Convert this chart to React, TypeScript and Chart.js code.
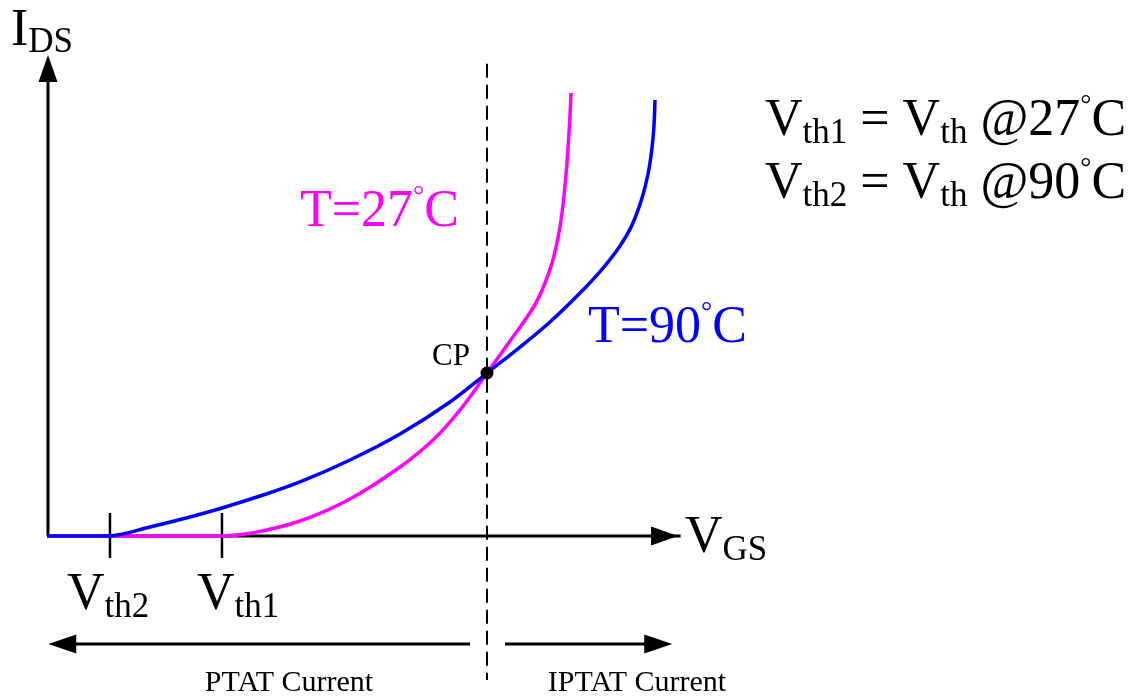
import React, { useEffect, useRef } from "react";
import { Chart, registerables } from "chart.js";

Chart.register(...registerables);

// Transfer curves I_DS(V_GS) at two temperatures (arbitrary units)
const vgs27 = [0, 2.734, 3.203, 3.953, 4.734, 5.516, 6.031, 6.453, 6.875, 7.234, 7.594, 7.75, 7.891, 7.984, 8.047, 8.109, 8.141, 8.172, 8.188];
const ids27 = [0, 0, 0.06, 0.302, 0.746, 1.391, 1.935, 2.54, 3.286, 3.931, 4.597, 5.0, 5.504, 6.008, 6.512, 7.278, 7.823, 8.488, 8.931];

const vgs90 = [0, 0.984, 1.609, 2.234, 2.734, 3.328, 3.953, 4.734, 5.516, 6.297, 6.875, 7.391, 7.859, 8.328, 8.688, 8.953, 9.141, 9.297, 9.391, 9.453, 9.484, 9.5];
const ids90 = [0, 0, 0.181, 0.383, 0.565, 0.806, 1.089, 1.532, 2.056, 2.702, 3.286, 3.81, 4.315, 4.899, 5.403, 5.847, 6.27, 6.815, 7.298, 7.823, 8.266, 8.79];

// Crossing point (zero temperature coefficient)
const cpVgs = 6.875;
const cpIds = 3.286;

// Threshold voltages marked on the V_GS axis
const vthValues = [0.984, 2.734];
const vthSubs = ["th2", "th1"];

const MAGENTA = "#ff00ff";
const BLUE = "#0000ff";
const SERIF = "'Liberation Serif', 'Times New Roman', serif";

type Run = { t: string; size: number; dy?: number };

function drawRuns(ctx: CanvasRenderingContext2D, x: number, y: number, runs: Run[], color: string) {
  ctx.fillStyle = color;
  ctx.textBaseline = "alphabetic";
  ctx.textAlign = "left";
  let cx = x;
  for (const r of runs) {
    ctx.font = `${r.size}px ${SERIF}`;
    ctx.fillText(r.t, cx, y + (r.dy || 0));
    cx += ctx.measureText(r.t).width;
  }
}

function arrowHead(ctx: CanvasRenderingContext2D, tipX: number, tipY: number, dir: "up" | "right" | "left", len: number, half: number) {
  ctx.beginPath();
  if (dir === "up") {
    ctx.moveTo(tipX, tipY);
    ctx.lineTo(tipX - half, tipY + len);
    ctx.lineTo(tipX + half, tipY + len);
  } else if (dir === "right") {
    ctx.moveTo(tipX, tipY);
    ctx.lineTo(tipX - len, tipY - half);
    ctx.lineTo(tipX - len, tipY + half);
  } else {
    ctx.moveTo(tipX, tipY);
    ctx.lineTo(tipX + len, tipY - half);
    ctx.lineTo(tipX + len, tipY + half);
  }
  ctx.closePath();
  ctx.fill();
}

const diagramPlugin = {
  id: "diagram",
  beforeDatasetsDraw(chart: any) {
    const { ctx, scales } = chart;
    const xs = scales.x;
    const ys = scales.y;
    const x0 = xs.getPixelForValue(0);
    const y0 = ys.getPixelForValue(0);
    ctx.save();
    ctx.strokeStyle = "#000";
    ctx.fillStyle = "#000";
    ctx.lineWidth = 3;
    // I_DS axis
    ctx.beginPath();
    ctx.moveTo(x0 + 1, y0);
    ctx.lineTo(x0 + 1, ys.getPixelForValue(9.3));
    ctx.stroke();
    arrowHead(ctx, x0 + 1, ys.getPixelForValue(9.7), "up", 27, 9.5);
    // V_GS axis
    ctx.beginPath();
    ctx.moveTo(x0, y0);
    ctx.lineTo(xs.getPixelForValue(9.9), y0);
    ctx.stroke();
    arrowHead(ctx, xs.getPixelForValue(9.86), y0, "right", 27, 9.5);
    // threshold ticks
    ctx.lineWidth = 2.5;
    for (const v of vthValues) {
      const px = xs.getPixelForValue(v);
      ctx.beginPath();
      ctx.moveTo(px, y0 - 23);
      ctx.lineTo(px, y0 + 22);
      ctx.stroke();
    }
    ctx.restore();
  },
  afterDatasetsDraw(chart: any) {
    const { ctx, scales } = chart;
    const xs = scales.x;
    const ys = scales.y;
    const y0 = ys.getPixelForValue(0);
    const cpX = xs.getPixelForValue(cpVgs);
    ctx.save();

    // vertical dashed line through CP
    ctx.strokeStyle = "#000";
    ctx.lineWidth = 2;
    ctx.setLineDash([14, 7]);
    ctx.beginPath();
    ctx.moveTo(cpX, ys.getPixelForValue(9.52));
    ctx.lineTo(cpX, 680);
    ctx.stroke();
    ctx.setLineDash([]);

    // CP dot
    ctx.fillStyle = "#000";
    ctx.beginPath();
    ctx.arc(cpX, ys.getPixelForValue(cpIds), 6.5, 0, Math.PI * 2);
    ctx.fill();

    // region arrows
    const ay = 644;
    ctx.lineWidth = 3;
    ctx.beginPath();
    ctx.moveTo(xs.getPixelForValue(0.4), ay);
    ctx.lineTo(cpX - 17, ay);
    ctx.moveTo(cpX + 18, ay);
    ctx.lineTo(xs.getPixelForValue(9.5), ay);
    ctx.stroke();
    arrowHead(ctx, xs.getPixelForValue(0.02), ay, "left", 28, 9.5);
    arrowHead(ctx, xs.getPixelForValue(9.77), ay, "right", 28, 9.5);

    // axis titles
    drawRuns(ctx, 11, 45, [{ t: "I", size: 52 }, { t: "DS", size: 35, dy: 7 }], "#000");
    drawRuns(ctx, 685, 552, [{ t: "V", size: 52 }, { t: "GS", size: 35, dy: 8 }], "#000");

    // threshold labels
    const vthLabelX = [67, 197];
    vthValues.forEach((_, i) => {
      drawRuns(ctx, vthLabelX[i], y0 + 73, [{ t: "V", size: 52 }, { t: vthSubs[i], size: 35, dy: 8 }], "#000");
    });

    // curve labels
    const deg = (s: string): Run[] => [
      { t: s, size: 52 },
      { t: "°", size: 28, dy: -22 },
      { t: "C", size: 52 },
    ];
    drawRuns(ctx, 300, 226, deg("T=27"), MAGENTA);
    drawRuns(ctx, 588, 342, deg("T=90"), BLUE);

    // CP label
    drawRuns(ctx, 432, 365, [{ t: "CP", size: 31 }], "#000");

    // threshold definitions
    const defLine = (sub: string, temp: string): Run[] => [
      { t: "V", size: 52 },
      { t: sub, size: 35, dy: 8 },
      { t: " = V", size: 52 },
      { t: "th", size: 35, dy: 8 },
      { t: " @" + temp, size: 52 },
      { t: "°", size: 28, dy: -22 },
      { t: "C", size: 52 },
    ];
    drawRuns(ctx, 765, 135, defLine("th1", "27"), "#000");
    drawRuns(ctx, 765, 198, defLine("th2", "90"), "#000");

    // region names
    ctx.fillStyle = "#000";
    ctx.font = `30px ${SERIF}`;
    ctx.textAlign = "center";
    ctx.fillText("PTAT Current", 289, 691);
    ctx.fillText("IPTAT Current", 637, 691);

    ctx.restore();
  },
};

export default function App() {
  const canvasRef = useRef<HTMLCanvasElement | null>(null);

  useEffect(() => {
    if (!canvasRef.current) return;
    const chart = new Chart(canvasRef.current, {
      type: "line",
      data: {
        datasets: [
          {
            label: "T=90°C",
            data: vgs90.map((v, i) => ({ x: v, y: ids90[i] })),
            borderColor: BLUE,
            borderWidth: 3.5,
            pointRadius: 0,
            tension: 0.4,
            clip: false,
            order: 0,
          },
          {
            label: "T=27°C",
            data: vgs27.map((v, i) => ({ x: v, y: ids27[i] })),
            borderColor: MAGENTA,
            borderWidth: 3.5,
            pointRadius: 0,
            tension: 0.4,
            clip: false,
            order: 1,
          },
        ],
      },
      options: {
        animation: false,
        responsive: false,
        layout: { padding: { left: 47, right: 450, top: 40, bottom: 164 } },
        scales: {
          x: { type: "linear", min: 0, max: 10, display: false },
          y: { type: "linear", min: 0, max: 10, display: false },
        },
        plugins: {
          legend: { display: false },
          tooltip: { enabled: false },
        },
      },
      plugins: [diagramPlugin],
    });
    return () => chart.destroy();
  }, []);

  return (
    <div style={{ position: "fixed", left: 0, top: 0, width: 1137, height: 700, background: "#fff" }}>
      <canvas ref={canvasRef} width={1137} height={700} style={{ display: "block" }} />
    </div>
  );
}
